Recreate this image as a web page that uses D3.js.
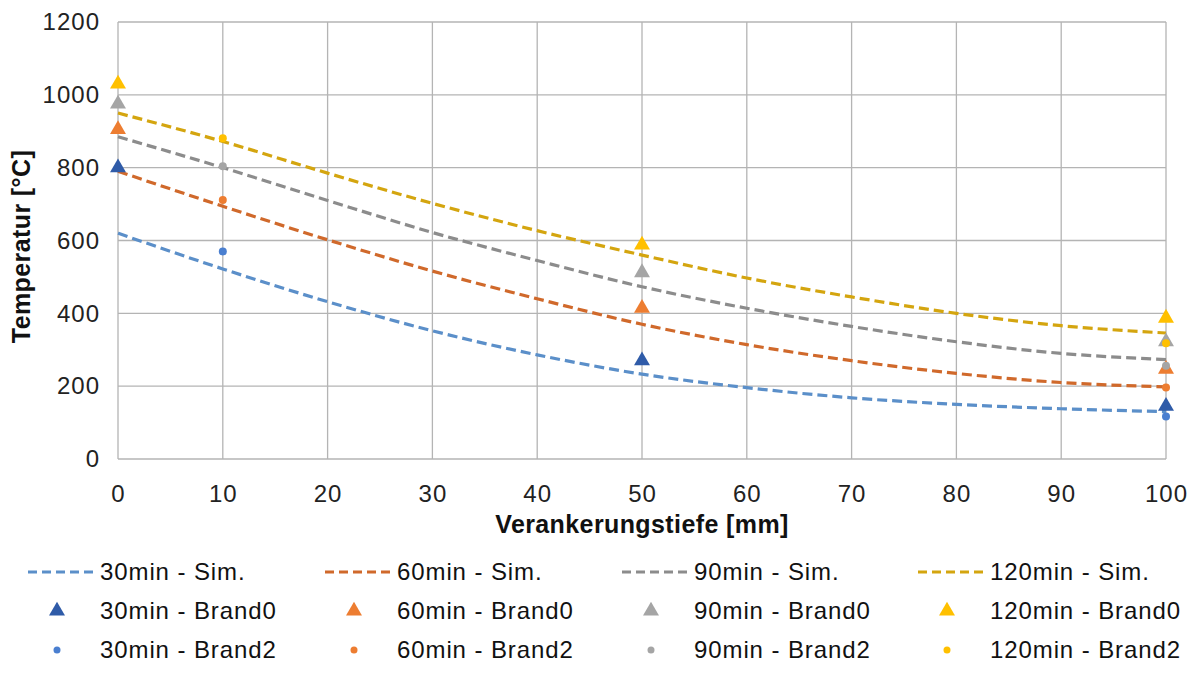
<!DOCTYPE html>
<meta charset="utf-8">
<style>
body { margin: 0; background: #fff; }
svg { display: block; font-family: "Liberation Sans", Arial, sans-serif; }
.grid line { stroke: #b4b4b4; stroke-width: 1.3px; }
.tick text { font-size: 24px; fill: #222; letter-spacing: 1px; font-family: "Liberation Sans", Arial, sans-serif; }
.sim { fill: none; stroke-width: 3.2px; stroke-dasharray: 10 5; }
.legend text { font-size: 24px; fill: #111; letter-spacing: 0.9px; }
.title { font-size: 25px; font-weight: bold; fill: #111; letter-spacing: 0.4px; }
</style>
<svg width="1197" height="673"></svg>
<script src="https://d3js.org/d3.v7.min.js"></script>
<script>
// depth in mm
var simDepth = [0, 10, 20, 30, 40, 50, 60, 70, 80, 90, 100];
var sim30  = [620, 522, 432, 352, 286, 233, 196, 168, 150, 138, 130];
var sim60  = [790, 694, 602, 516, 440, 370, 314, 270, 235, 210, 198];
var sim90  = [885, 800, 710, 622, 545, 473, 414, 364, 322, 290, 273];
var sim120 = [950, 872, 785, 702, 627, 560, 497, 445, 400, 366, 346];

var brand0Depth = [0, 50, 100];
var b0_30  = [800, 270, 145];
var b0_60  = [905, 414, 247];
var b0_90  = [975, 512, 322];
var b0_120 = [1030, 588, 387];

var brand2Depth = [10, 100];
var b2_30  = [570, 117];
var b2_60  = [711, 196];
var b2_90  = [804, 256];
var b2_120 = [881, 318];

var xTicks = [0, 10, 20, 30, 40, 50, 60, 70, 80, 90, 100];
var yTicks = [0, 200, 400, 600, 800, 1000, 1200];

var series = [
  {name: "30min",  sim: sim30,  b0: b0_30,  b2: b2_30,  line: "#5b8fc9", tri: "#2f5ba8", dot: "#4a7fd0"},
  {name: "60min",  sim: sim60,  b0: b0_60,  b2: b2_60,  line: "#d0692b", tri: "#ed7d31", dot: "#ed7d31"},
  {name: "90min",  sim: sim90,  b0: b0_90,  b2: b2_90,  line: "#8c8c8c", tri: "#a5a5a5", dot: "#a5a5a5"},
  {name: "120min", sim: sim120, b0: b0_120, b2: b2_120, line: "#d4a50f", tri: "#ffc000", dot: "#ffc000"}
];

var svg = d3.select("svg");
var pLeft = 118, pRight = 1166, pTop = 22, pBottom = 459;

var x = d3.scaleLinear().domain([0, 100]).range([pLeft, pRight]);
var y = d3.scaleLinear().domain([0, 1200]).range([pBottom, pTop]);

// grid
var grid = svg.append("g").attr("class", "grid");
grid.selectAll(".h").data(yTicks).enter().append("line")
    .attr("x1", pLeft).attr("x2", pRight)
    .attr("y1", function(d) { return y(d); }).attr("y2", function(d) { return y(d); });
grid.selectAll(".v").data(xTicks).enter().append("line")
    .attr("y1", pTop).attr("y2", pBottom)
    .attr("x1", function(d) { return x(d); }).attr("x2", function(d) { return x(d); });

// axes
var xAxis = svg.append("g").attr("transform", "translate(0," + pBottom + ")")
    .call(d3.axisBottom(x).tickValues(xTicks).tickSize(0).tickPadding(26).tickFormat(d3.format("d")));
xAxis.select(".domain").remove();

var yAxis = svg.append("g").attr("transform", "translate(" + pLeft + ",0)")
    .call(d3.axisLeft(y).tickValues(yTicks).tickSize(0).tickPadding(18).tickFormat(d3.format("d")));
yAxis.select(".domain").remove();

svg.append("text").attr("class", "title").attr("x", (pLeft + pRight) / 2).attr("y", 533)
    .attr("text-anchor", "middle")
    .text("Verankerungstiefe [mm]");
svg.append("text").attr("class", "title").attr("transform", "translate(30," + ((pTop + pBottom) / 2 + 6) + ") rotate(-90)")
    .attr("text-anchor", "middle")
    .text("Temperatur [°C]");

// simulation curves
var line = d3.line()
    .x(function(d, i) { return x(simDepth[i]); })
    .y(function(d) { return y(d); })
    .curve(d3.curveMonotoneX);

svg.selectAll(".sim").data(series).enter().append("path")
    .attr("class", "sim")
    .attr("stroke", function(d) { return d.line; })
    .attr("d", function(d) { return line(d.sim); });

var tri = d3.symbol().type(d3.symbolTriangle).size(110);

series.forEach(function(s) {
  svg.append("g").selectAll("path").data(s.b0).enter().append("path")
      .attr("d", tri)
      .attr("fill", s.tri)
      .attr("transform", function(d, i) { return "translate(" + x(brand0Depth[i]) + "," + y(d) + ")"; });
  svg.append("g").selectAll("circle").data(s.b2).enter().append("circle")
      .attr("r", 4)
      .attr("fill", s.dot)
      .attr("cx", function(d, i) { return x(brand2Depth[i]); })
      .attr("cy", function(d) { return y(d); });
});

// legend
var legend = svg.append("g").attr("class", "legend");
var colX = [28, 325, 622, 918];
var rowY = [572, 611, 650];
series.forEach(function(s, i) {
  var cx = colX[i];
  legend.append("line")
      .attr("x1", cx).attr("x2", cx + 68).attr("y1", rowY[0]).attr("y2", rowY[0])
      .attr("stroke", s.line).attr("stroke-width", 3).attr("stroke-dasharray", "9 5");
  legend.append("text").attr("x", cx + 72).attr("y", rowY[0]).attr("dy", "0.35em")
      .text(s.name + " - Sim.");

  legend.append("path").attr("d", tri).attr("fill", s.tri)
      .attr("transform", "translate(" + (cx + 29) + "," + rowY[1] + ")");
  legend.append("text").attr("x", cx + 72).attr("y", rowY[1]).attr("dy", "0.35em")
      .text(s.name + " - Brand0");

  legend.append("circle").attr("r", 3.5).attr("fill", s.dot)
      .attr("cx", cx + 29).attr("cy", rowY[2]);
  legend.append("text").attr("x", cx + 72).attr("y", rowY[2]).attr("dy", "0.35em")
      .text(s.name + " - Brand2");
});
</script>
